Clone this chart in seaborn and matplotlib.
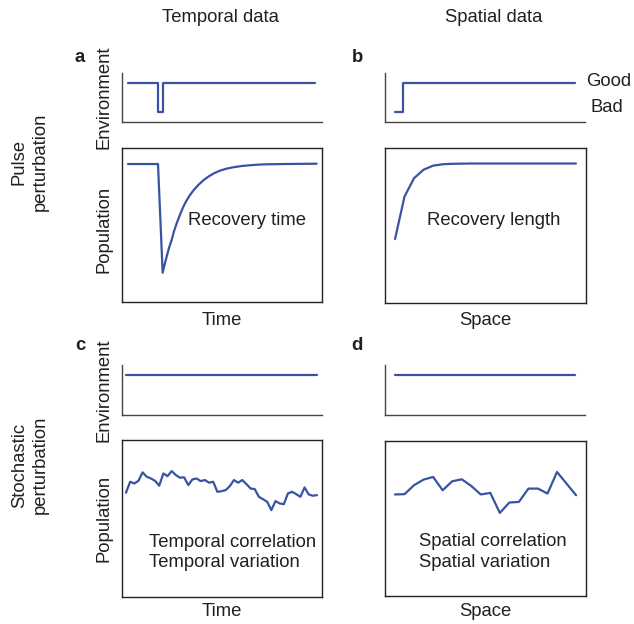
import numpy as np
import matplotlib.pyplot as plt
import seaborn as sns

# Configuración inicial
sns.set_theme(style="white")
plt.rcParams['font.family'] = ['Liberation Sans', 'DejaVu Sans']

AZUL = '#3953a4'
TEXTO = '#231f20'
FS = 13.3

# --- Datos ---
# a: perturbación de pulso, datos temporales
tiempo_env = [3, 18, 18, 20.5, 20.5, 96.5]
env_pulso = [0.8, 0.8, 0.2, 0.2, 0.8, 0.8]
tiempo_pob = [3, 18, 20.33, 21.33, 22.33, 23.5, 24.83, 26.0, 27.33, 29.0, 30.67, 32.33,
              34.0, 36.0, 38.17, 40.67, 43.17, 46.0, 49.0, 52.33, 55.67, 59.83, 64.0,
              68.17, 72.33, 80.67, 97.33]
pob_pulso = [0.896, 0.896, 0.190, 0.245, 0.294, 0.351, 0.403, 0.459, 0.511, 0.567, 0.619,
             0.660, 0.695, 0.729, 0.760, 0.790, 0.814, 0.836, 0.853, 0.866, 0.875, 0.883,
             0.888, 0.892, 0.894, 0.896, 0.898]

# b: perturbación de pulso, datos espaciales
espacio_env = [5, 9, 9, 95]
env_espacio = [0.2, 0.2, 0.8, 0.8]
espacio_pob = [5, 9.7, 14.5, 19.2, 23.9, 28.7, 33.4, 38.2, 42.9, 47.6,
               52.4, 57.1, 61.8, 66.6, 71.3, 76.1, 80.8, 85.5, 90.3, 95]
pob_espacio = [0.413, 0.687, 0.806, 0.860, 0.886, 0.895, 0.898, 0.899, 0.900, 0.900,
               0.900, 0.900, 0.900, 0.900, 0.900, 0.900, 0.900, 0.900, 0.900, 0.900]

# c: perturbación estocástica, datos temporales
pob_temporal = [0.664, 0.734, 0.723, 0.740, 0.794, 0.766, 0.755, 0.740, 0.709, 0.787,
                0.770, 0.802, 0.777, 0.760, 0.762, 0.713, 0.749, 0.755, 0.738, 0.745,
                0.728, 0.734, 0.670, 0.674, 0.681, 0.706, 0.745, 0.728, 0.745, 0.719,
                0.691, 0.687, 0.638, 0.623, 0.606, 0.553, 0.611, 0.596, 0.591, 0.660,
                0.670, 0.655, 0.638, 0.698, 0.653, 0.645, 0.649]
env_temporal = [0.8, 0.8]

# d: perturbación estocástica, datos espaciales
pob_espacial = [0.655, 0.657, 0.715, 0.751, 0.768, 0.682, 0.740, 0.753, 0.710, 0.655,
                0.665, 0.536, 0.603, 0.607, 0.693, 0.693, 0.661, 0.800, 0.725, 0.650]
env_espacial = [0.8, 0.8]

W, H = 634, 624
fig = plt.figure(figsize=(W / 100, H / 100), dpi=100)


def caja(izq, arriba, ancho, alto):
    # posición en píxeles -> fracción de figura
    return [izq / W, 1 - (arriba + alto) / H, ancho / W, alto / H]


def txt(x, y, s, **kw):
    kw.setdefault('color', TEXTO)
    kw.setdefault('fontsize', FS)
    kw.setdefault('ha', 'center')
    kw.setdefault('va', 'center')
    fig.text(x / W, 1 - y / H, s, **kw)


def eje_env(pos, xlim):
    ax = fig.add_axes(pos)
    ax.set_xlim(*xlim)
    ax.set_ylim(0, 1)
    ax.set_xticks([])
    ax.set_yticks([])
    for lado in ['top', 'right']:
        ax.spines[lado].set_visible(False)
    for lado in ['left', 'bottom']:
        ax.spines[lado].set_color('#444444')
        ax.spines[lado].set_linewidth(1)
    return ax


def eje_pob(pos, xlim):
    ax = fig.add_axes(pos)
    ax.set_xlim(*xlim)
    ax.set_ylim(0, 1)
    ax.set_xticks([])
    ax.set_yticks([])
    for lado in ax.spines:
        ax.spines[lado].set_color('#222222')
        ax.spines[lado].set_linewidth(1)
    return ax


def linea(ax, x, y):
    sns.lineplot(x=x, y=y, ax=ax, color=AZUL, linewidth=1.6, sort=False, estimator=None)
    ax.set_xlabel('')
    ax.set_ylabel('')


def nota(ax, x, y, s):
    ax.text(x, y, s, transform=ax.transAxes, fontsize=FS, color=TEXTO, va='center')


# a
ax = eje_env(caja(122, 73, 200, 49), (0, 100))
linea(ax, tiempo_env, env_pulso)
ax = eje_pob(caja(122, 148, 200, 154), (0, 100))
linea(ax, tiempo_pob, pob_pulso)
nota(ax, 0.33, 0.526, 'Recovery time')

# b
ax = eje_env(caja(385, 73, 200, 49), (0, 100))
linea(ax, espacio_env, env_espacio)
ax = eje_pob(caja(385, 148, 201, 155), (0, 100))
linea(ax, espacio_pob, pob_espacio)
nota(ax, 0.209, 0.535, 'Recovery length')

# c
idx_c = np.arange(len(pob_temporal))
lim_c = (-0.96, 47.2)
ax = eje_env(caja(122, 365, 200, 50), lim_c)
linea(ax, [idx_c[0], idx_c[-1]], env_temporal)
ax = eje_pob(caja(122, 440, 200, 157), lim_c)
linea(ax, idx_c, pob_temporal)
nota(ax, 0.135, 0.35, 'Temporal correlation')
nota(ax, 0.135, 0.217, 'Temporal variation')

# d
idx_d = np.arange(len(pob_espacial))
lim_d = (-1.05, 20.04)
ax = eje_env(caja(385, 365, 200, 50), lim_d)
linea(ax, [idx_d[0], idx_d[-1]], env_espacial)
ax = eje_pob(caja(385, 441, 201, 155), lim_d)
linea(ax, idx_d, pob_espacial)
nota(ax, 0.169, 0.35, 'Spatial correlation')
nota(ax, 0.169, 0.217, 'Spatial variation')

# Textos de la figura
txt(220, 18, 'Temporal data')
txt(494, 18, 'Spatial data')
for x, y, letra in [(80, 57, 'a'), (357, 57, 'b'), (80, 345, 'c'), (357, 345, 'd')]:
    txt(x, y, letra, fontweight='bold')
txt(586, 82, 'Good', ha='left')
txt(590, 107, 'Bad', ha='left')
for y in [97, 390]:
    txt(104, y, 'Environment', rotation=90)
for y in [229, 518]:
    txt(104, y, 'Population', rotation=90)
txt(222, 321, 'Time')
txt(485, 321, 'Space')
txt(222, 612, 'Time')
txt(485, 612, 'Space')
txt(30, 162, 'Pulse\nperturbation', rotation=90, multialignment='center', linespacing=1.35)
txt(30, 465, 'Stochastic\nperturbation', rotation=90, multialignment='center', linespacing=1.35)

plt.savefig('out.png', dpi=100)
plt.close()
